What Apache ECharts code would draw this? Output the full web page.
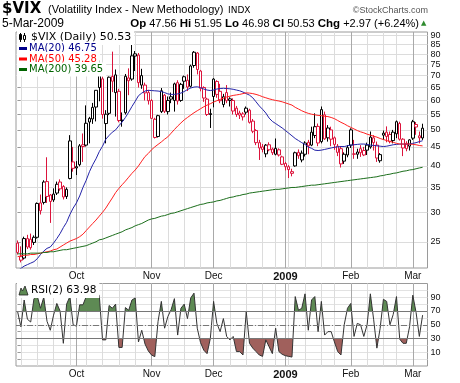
<!DOCTYPE html>
<html><head><meta charset="utf-8">
<script src="https://cdn.jsdelivr.net/npm/echarts@6/dist/echarts.min.js"></script>
<style>html,body{margin:0;padding:0;background:#fff}#c{width:460px;height:383px}</style>
</head><body><div id="c"></div>
<script>
const dates = ['2008-09-05','2008-09-08','2008-09-09','2008-09-10','2008-09-11','2008-09-12','2008-09-15','2008-09-16','2008-09-17','2008-09-18','2008-09-19','2008-09-22','2008-09-23','2008-09-24','2008-09-25','2008-09-26','2008-09-29','2008-09-30',
'2008-10-01','2008-10-02','2008-10-03','2008-10-06','2008-10-07','2008-10-08','2008-10-09','2008-10-10','2008-10-13','2008-10-14','2008-10-15','2008-10-16','2008-10-17','2008-10-20','2008-10-21','2008-10-22','2008-10-23','2008-10-24','2008-10-27','2008-10-28','2008-10-29','2008-10-30','2008-10-31',
'2008-11-03','2008-11-04','2008-11-05','2008-11-06','2008-11-07','2008-11-10','2008-11-11','2008-11-12','2008-11-13','2008-11-14','2008-11-17','2008-11-18','2008-11-19','2008-11-20','2008-11-21','2008-11-24','2008-11-25','2008-11-26','2008-11-28',
'2008-12-01','2008-12-02','2008-12-03','2008-12-04','2008-12-05','2008-12-08','2008-12-09','2008-12-10','2008-12-11','2008-12-12','2008-12-15','2008-12-16','2008-12-17','2008-12-18','2008-12-19','2008-12-22','2008-12-23','2008-12-24','2008-12-26','2008-12-29','2008-12-30','2008-12-31',
'2009-01-02','2009-01-05','2009-01-06','2009-01-07','2009-01-08','2009-01-09','2009-01-12','2009-01-13','2009-01-14','2009-01-15','2009-01-16','2009-01-20','2009-01-21','2009-01-22','2009-01-23','2009-01-26','2009-01-27','2009-01-28','2009-01-29','2009-01-30',
'2009-02-02','2009-02-03','2009-02-04','2009-02-05','2009-02-06','2009-02-09','2009-02-10','2009-02-11','2009-02-12','2009-02-13','2009-02-17','2009-02-18','2009-02-19','2009-02-20','2009-02-23','2009-02-24','2009-02-25','2009-02-26','2009-02-27',
'2009-03-02','2009-03-03','2009-03-04','2009-03-05'];

const open  = [24.8,22.3,22.6,25.5,25.4,24.9,25.7,31.8,31.9,36.3, 33.4,32.4,33.8,36.2,35.2,33.1,37.0,41.0,39.5,40.3, 45.6,45.5,52.5,53.5,57.6,65.0,68.6,52.0,55.4,69.6, 63.0,63.5,53.0,55.6,69.0,68.5,79.0,79.5,66.0,66.0, 63.0,60.0,53.4,48.0,56.0,62.0,56.0,60.5,60.0,67.0, 60.0,69.5,68.0,65.5,74.5,80.5,72.0,65.0,60.5,55.0, 61.5,67.5,63.5,58.5,63.0,60.6,60.0,57.2,55.5,55.2, 55.8,56.5,52.8,49.8,46.2,45.0,43.1,45.6,44.4,43.0, 44.2,42.3,40.6,39.8,38.2,40.0,43.5,41.5,43.0,46.3, 45.5,48.3,51.1,46.5,54.9,50.6,50.0,47.6,45.2,44.5, 41.2,42.8,50.0,43.0,43.0,44.5,44.0,45.5,45.0,47.6, 45.5,41.3,48.4,49.3,48.6,46.8,48.8,52.0,47.2,46.0, 45.2,47.5,51.7,48.2,47.56];
const high  = [25.2,24.3,25.8,26.1,26.3,26.0,31.9,33.5,36.6,42.2, 33.6,34.8,36.3,36.8,35.5,35.0,48.4,45.0,41.2,45.8, 48.9,58.2,54.2,59.1,64.0,76.9,69.6,56.5,69.6,81.2, 72.7,64.5,55.7,70.7,73.2,89.5,81.5,80.5,73.0,67.0, 64.0,60.5,53.9,54.9,64.8,62.5,61.5,63.0,67.0,68.0, 66.9,70.0,70.5,74.9,81.5,81.0,72.5,65.5,61.0,57.0, 68.9,68.0,66.5,62.5,66.0,61.2,60.8,58.0,56.3,55.8, 57.8,57.0,53.5,50.2,47.0,45.8,45.8,46.3,44.8,47.4, 44.6,42.6,41.0,40.2,39.3,43.7,44.3,44.0,46.6,47.0, 51.0,55.4,52.0,57.8,56.0,51.5,51.0,48.0,45.8,45.2, 43.5,45.5,50.5,47.0,44.5,45.5,45.0,46.2,49.5,48.4, 46.5,43.3,49.8,51.1,49.5,50.0,53.0,52.6,47.5,46.6, 47.2,53.2,52.5,49.5,51.95];
const low   = [23.1,22.0,22.4,23.9,23.8,24.5,25.5,29.6,31.5,31.8, 28.1,32.0,33.4,34.3,32.5,32.6,36.8,38.6,37.8,39.9, 41.0,45.1,46.0,51.9,52.7,59.7,53.6,46.0,54.8,63.2, 54.3,52.4,51.0,55.0,62.0,67.8,72.0,65.0,64.5,60.0, 58.5,53.6,47.4,47.7,55.5,55.5,55.0,59.0,56.0,58.5, 59.5,64.5,63.6,65.0,73.5,70.5,63.5,59.5,54.5,50.6, 57.5,61.0,59.0,57.5,59.0,57.8,55.0,54.2,53.5,53.0, 55.0,52.0,49.0,45.5,41.5,43.5,42.2,43.8,42.8,42.7, 42.4,40.2,38.9,37.1,37.5,39.8,41.8,40.9,42.4,43.0, 45.2,47.5,45.2,46.0,47.0,46.5,45.2,44.2,42.5,39.6, 40.5,42.2,44.7,41.8,41.8,42.3,42.5,42.8,44.5,44.0, 41.0,40.8,47.0,46.3,46.0,46.0,47.5,46.8,42.5,43.8, 44.0,47.0,48.5,46.0,46.98];
const close = [23.4,22.8,25.5,24.2,24.1,25.7,31.7,30.3,36.2,33.1, 32.1,33.6,35.7,34.7,33.0,34.6,46.7,39.4,39.8,45.3, 45.1,52.1,53.7,57.5,63.9,70.0,55.0,55.1,69.3,67.6, 70.3,53.0,53.1,69.7,67.8,79.1,80.1,67.0,70.0,62.9, 59.9,53.7,47.7,54.6,63.7,56.1,60.0,61.4,66.5,59.8, 66.3,67.6,65.2,74.3,80.9,72.7,64.7,60.9,55.0,55.3, 68.5,62.3,59.9,61.4,59.9,60.0,56.2,55.0,54.8,54.2, 57.2,52.4,49.6,46.2,44.7,44.3,45.5,44.2,43.4,44.6, 42.8,40.4,39.8,39.1,38.6,43.4,42.6,43.3,46.1,45.3, 49.3,51.0,46.1,56.7,47.3,47.6,47.2,45.7,43.5,40.5, 43.0,44.8,45.5,43.1,43.6,43.4,42.8,44.1,47.8,46.2, 42.0,42.9,49.0,48.0,46.6,49.3,52.6,47.2,44.7,44.5, 47.0,52.6,50.9,47.6,50.53];
const priorClose = 24.0;

const ma20  = [20.9,21.2,21.5,21.7,21.9,22.1,22.5,23.1,23.6,24.0, 24.2,24.8,25.5,26.3,27.3,28.2,29.6,30.8,31.8,33.2, 35.0,36.6,38.6,40.3,41.8,43.7,45.2,47.2,48.3,49.3, 50.0,51.3,52.5,54.0,55.8,57.8,59.7,61.8,62.8,63.6, 63.9,63.8,63.7,63.6,63.4,63.0,62.5,62.3,62.3,62.5, 62.8,63.4,64.2,64.8,65.2,65.3,65.0,64.4,64.0,63.8, 64.0,64.4,64.6,64.7,64.6,64.5,64.3,64.0,63.7,63.2, 62.6,62.0,61.0,59.5,58.0,56.8,55.5,53.8,52.7,52.0, 51.3,50.6,49.8,49.0,48.2,47.4,46.8,46.2,45.7,45.0, 44.6,44.1,44.0,44.1,44.3,44.5,44.7,44.9,45.0,45.1, 45.1,45.3,45.5,45.6,45.7,45.8,45.8,45.7,45.5,45.4, 45.3,45.2,45.1,45.2,45.4,45.6,45.7,45.8,45.8,45.7, 45.8,46.0,46.2,46.5,46.75];
const ma50  = [22.8,22.9,23.0,23.0,23.1,23.1,23.2,23.3,23.4,23.5, 23.6,23.8,23.9,24.2,24.5,24.8,25.1,25.3,25.5,25.8, 26.2,26.8,27.4,28.0,28.6,29.3,30.0,30.8,31.8,32.8, 33.9,34.8,35.6,36.4,37.3,38.2,39.0,40.0,41.2,42.4, 43.2,44.2,45.0,45.7,46.4,47.2,47.9,49.0,50.1,51.2, 52.2,53.2,54.0,54.8,55.6,56.3,57.0,57.7,58.3,58.8, 59.4,59.9,60.4,60.8,61.3,61.6,61.9,62.1,62.3,62.6, 62.9,62.8,62.6,62.3,61.9,61.4,61.0,60.6,60.3,60.0, 59.8,59.5,59.1,58.7,58.3,57.5,56.9,56.3,55.8,55.4, 55.1,54.9,54.7,54.6,54.4,54.3,54.0,53.6,53.0,52.4, 51.9,51.3,50.8,50.3,49.8,49.4,49.1,48.7,48.4,48.1, 47.8,47.4,47.1,46.8,46.5,46.3,46.0,45.8,45.8,45.8, 45.8,45.7,45.6,45.4,45.28];
const ma200 = [23.2,23.2,23.2,23.2,23.3,23.3,23.3,23.3,23.4,23.4, 23.5,23.5,23.6,23.7,23.8,23.8,23.9,24.0,24.1,24.2, 24.3,24.4,24.6,24.8,25.0,25.3,25.4,25.6,25.8,26.0, 26.2,26.4,26.6,26.9,27.1,27.3,27.6,27.8,28.0,28.3, 28.6,28.8,28.9,29.1,29.3,29.4,29.6,29.8,29.9,30.1, 30.3,30.5,30.7,30.9,31.1,31.3,31.5,31.6,31.8,31.9, 32.0,32.2,32.3,32.5,32.7,32.9,33.0,33.2,33.3,33.5, 33.6,33.8,33.9,34.0,34.1,34.2,34.3,34.4,34.5,34.6, 34.6,34.7,34.8,34.9,35.0,35.0,35.1,35.2,35.3,35.4, 35.5,35.5,35.6,35.7,35.8,35.9,36.0,36.1,36.2,36.3, 36.4,36.5,36.6,36.7,36.8,36.9,37.0,37.1,37.2,37.3, 37.4,37.6,37.7,37.9,38.0,38.2,38.3,38.5,38.7,38.8, 39.0,39.1,39.3,39.5,39.65];
const rsi2  = [69,47,86,58,54,88,92,74,90,55, 42,64,81,70,23,80,91,50,48,79, 79,91,93,93,93,93,28,28,78,74, 80,17,17,75,71,86,89,25,42,22, 12,6,3.6,55,84,45,62,72,88,35, 74,80,59,89,96,45,24,13,8,30, 84,52,40,59,33,28,33,11,11,6, 69,23,16,11,6,4,28,18,8,45, 11,7,5,4,3,91,71,74,95,42, 86,91,40,84,35,40,40,25,11,6, 50,74,81,33,52,50,33,50,95,58, 16,45,87,84,50,65,91,29,23,23, 47,93,68,33,63.98];

const priceTicks = [25,30,35,40,45,50,55,60,65,70,75,80,85,90];
const rsiLabelTicks = [10,30,50,70,90];
const rsiGridTicks = [0,10,20,30,40,50,60,70,80,90,100];
const monthNames = ['Jan','Feb','Mar','Apr','May','Jun','Jul','Aug','Sep','Oct','Nov','Dec'];

const RED = '#dc143c', BLACK = '#000000';
const FONT = '"Liberation Sans", Arial, sans-serif';
const DV = '"DejaVu Sans", sans-serif';
const L = Math.log;
const N = dates.length;
const cats = dates.concat(['']);

const weekStarts = [], monthStarts = [];
for (let i = 1; i < N; i++) {
  const d = new Date(dates[i] + 'T00:00:00Z'), p = new Date(dates[i-1] + 'T00:00:00Z');
  if (d.getUTCDay() <= p.getUTCDay()) weekStarts.push(i);
  if (d.getUTCMonth() !== p.getUTCMonth()) monthStarts.push(i);
}
function monthLabel(v) {
  const d = dates[Math.round(v)]; if (!d) return '';
  const m = +d.slice(5, 7);
  return m === 1 ? '{b|' + d.slice(0, 4) + '}' : monthNames[m - 1];
}

const candleData = close.map((c, i) => {
  const prev = i ? close[i-1] : priorClose;
  const col = c < prev ? RED : BLACK;
  return {
    value: [L(open[i]), L(c), L(low[i]), L(high[i])],
    itemStyle: { color: '#ffffff', color0: col, borderColor: col, borderColor0: col, borderColorDoji: col, borderWidth: 1 }
  };
});

function xAxesFor(gi) {
  return [
    { type: 'category', gridIndex: gi, data: cats, boundaryGap: true, position: 'bottom',
      axisLine: { show: false }, axisTick: { show: false }, axisLabel: { show: false }, splitLine: { show: false } },
    { type: 'value', gridIndex: gi, min: -0.5, max: cats.length - 0.5, position: 'bottom',
      axisLine: { show: false }, axisTick: { show: false, customValues: weekStarts },
      splitLine: { show: true, lineStyle: { color: '#dcdcdc', width: 1 } },
      axisLabel: { show: true, customValues: monthStarts, formatter: monthLabel, fontSize: 10, fontFamily: FONT, color: '#111', margin: 3,
        rich: { b: { fontWeight: 'bold', fontSize: 11, fontFamily: FONT, color: '#111' } } } },
    { type: 'value', gridIndex: gi, min: -0.5, max: cats.length - 0.5, position: 'bottom',
      axisLine: { show: false }, axisTick: { show: false, customValues: monthStarts },
      splitLine: { show: true, lineStyle: { color: '#a9a9a9', width: 1 } }, axisLabel: { show: false } }
  ];
}

function T(x, y, text, font, fill, align, extra) {
  return { type: 'text', x: x, y: y, z: 100, silent: true,
    style: Object.assign({ text: text, font: font, fill: fill || '#000', textAlign: align || 'left', align: align || 'left',
      textVerticalAlign: 'middle', verticalAlign: 'middle' }, extra || {}) };
}
const boxed = (pl) => ({ backgroundColor: '#ffffff', padding: [2, 3, 2, pl] });

const graphics = [
  T(2, 9.5, '$VIX', 'bold 15px ' + DV, '#000'),
  T(48, 10, '(Volatility Index - New Methodology)', '11px ' + FONT, '#000'),
  T(228, 10.5, 'INDX', '9px ' + DV, '#000'),
  T(428, 10.5, '\u00A9StockCharts.com', '9px ' + FONT, '#555', 'right'),
  T(2, 24, '5-Mar-2009', '12px ' + FONT, '#000'),
  T(419, 24, '{b|Op} 47.56 {b|Hi} 51.95 {b|Lo} 46.98 {b|Cl} 50.53 {b|Chg} +2.97 (+6.24%)', '11px ' + FONT, '#000', 'right',
    { rich: { b: { font: 'bold 11.5px ' + FONT, fill: '#000' } } }),
  T(421, 23.5, '\u25B2', '7px ' + DV, '#2e8b2e'),
  T(17, 37.5, '$VIX (Daily) 50.53', '11px ' + DV, '#000', 'left', boxed(14)),
  T(17, 48.5, 'MA(20) 46.75', '10px ' + DV, '#00008b', 'left', boxed(12)),
  T(17, 59, 'MA(50) 45.28', '10px ' + DV, '#ff0000', 'left', boxed(12)),
  T(17, 69.5, 'MA(200) 39.65', '10px ' + DV, '#006400', 'left', boxed(12)),
  { type: 'rect', z: 101, silent: true, shape: { x: 19, y: 47, width: 8, height: 3 }, style: { fill: '#00008b' } },
  { type: 'rect', z: 101, silent: true, shape: { x: 19, y: 57.5, width: 8, height: 3 }, style: { fill: '#ff0000' } },
  { type: 'rect', z: 101, silent: true, shape: { x: 19, y: 68, width: 8, height: 3 }, style: { fill: '#006400' } },
  { type: 'line', z: 101, silent: true, shape: { x1: 20.5, y1: 33, x2: 20.5, y2: 42 }, style: { stroke: '#000', lineWidth: 1 } },
  { type: 'rect', z: 102, silent: true, shape: { x: 19.5, y: 34.5, width: 2, height: 5 }, style: { fill: '#000', stroke: '#000', lineWidth: 1 } },
  { type: 'line', z: 101, silent: true, shape: { x1: 24.5, y1: 33, x2: 24.5, y2: 42 }, style: { stroke: '#000', lineWidth: 1 } },
  { type: 'rect', z: 102, silent: true, shape: { x: 23.5, y: 35.5, width: 2, height: 4 }, style: { fill: '#fff', stroke: '#000', lineWidth: 1 } },
  T(17, 290.5, 'RSI(2) 63.98', '10.5px ' + DV, '#000', 'left', boxed(14)),
  { type: 'polygon', z: 101, silent: true, shape: { points: [[19, 295], [21, 288], [22.5, 291], [25, 286], [28, 295]] },
    style: { fill: '#5e8a54', stroke: '#222', lineWidth: 0.8 } }
];

const option = {
  animation: false,
  backgroundColor: '#ffffff',
  textStyle: { fontFamily: FONT },
  grid: [
    { left: 16, top: 32, width: 411.5, height: 236, show: true, borderColor: '#9a9a9a', borderWidth: 1, backgroundColor: '#fff' },
    { left: 16, top: 283.5, width: 411.5, height: 82.5, show: true, borderColor: '#9a9a9a', borderWidth: 1, backgroundColor: '#fff' }
  ],
  xAxis: xAxesFor(0).concat(xAxesFor(1)),
  yAxis: [
    { type: 'value', gridIndex: 0, position: 'right', min: L(21.25), max: L(91.7),
      axisLine: { show: false },
      axisTick: { show: true, length: 3, customValues: priceTicks.map(L), lineStyle: { color: '#999' } },
      axisLabel: { customValues: priceTicks.map(L), formatter: v => String(Math.round(Math.exp(v))), fontSize: 9, fontFamily: FONT, color: '#111', margin: 3 },
      splitLine: { show: true, lineStyle: { color: '#dcdcdc' } } },
    { type: 'value', gridIndex: 1, position: 'right', min: -10, max: 110,
      axisLine: { show: false },
      axisTick: { show: true, length: 3, customValues: rsiGridTicks, lineStyle: { color: '#999' } },
      axisLabel: { customValues: rsiLabelTicks, fontSize: 9, fontFamily: FONT, color: '#111', margin: 3 },
      splitLine: { show: true, lineStyle: { color: '#e2e2e2' } } }
  ],
  visualMap: [{
    type: 'piecewise', show: false, seriesIndex: 4, dimension: 1,
    pieces: [ { gt: 70, color: '#5e8a54' }, { lt: 30, color: '#a0605c' }, { gte: 30, lte: 70, color: 'rgba(255,255,255,0)' } ]
  }],
  series: [
    { type: 'candlestick', xAxisIndex: 0, yAxisIndex: 0, data: candleData, barWidth: 3, clip: true },
    { type: 'line', xAxisIndex: 0, yAxisIndex: 0, data: ma20.map(L), symbol: 'none', lineStyle: { color: '#2323a8', width: 1 }, z: 3 },
    { type: 'line', xAxisIndex: 0, yAxisIndex: 0, data: ma50.map(L), symbol: 'none', lineStyle: { color: '#ff2020', width: 1 }, z: 3 },
    { type: 'line', xAxisIndex: 0, yAxisIndex: 0, data: ma200.map(L), symbol: 'none', lineStyle: { color: '#1b6e1b', width: 1 }, z: 3 },
    { type: 'line', xAxisIndex: 3, yAxisIndex: 1, data: rsi2, symbol: 'none', lineStyle: { opacity: 0, width: 0 },
      areaStyle: { origin: 50, opacity: 1 },
      markLine: { silent: true, symbol: ['none', 'none'], label: { show: false }, animation: false,
        data: [ { yAxis: 70, lineStyle: { color: '#777', type: 'solid', width: 1 } },
                { yAxis: 30, lineStyle: { color: '#777', type: 'solid', width: 1 } },
                { yAxis: 50, lineStyle: { color: '#777', type: [6, 2, 1, 2], width: 1 } } ] } },
    { type: 'line', xAxisIndex: 3, yAxisIndex: 1, data: rsi2, symbol: 'none', lineStyle: { color: '#333', width: 1 }, z: 4 }
  ],
  graphic: { elements: graphics }
};
const chart = echarts.init(document.getElementById('c'));
chart.setOption(option);
</script>
</body></html>
